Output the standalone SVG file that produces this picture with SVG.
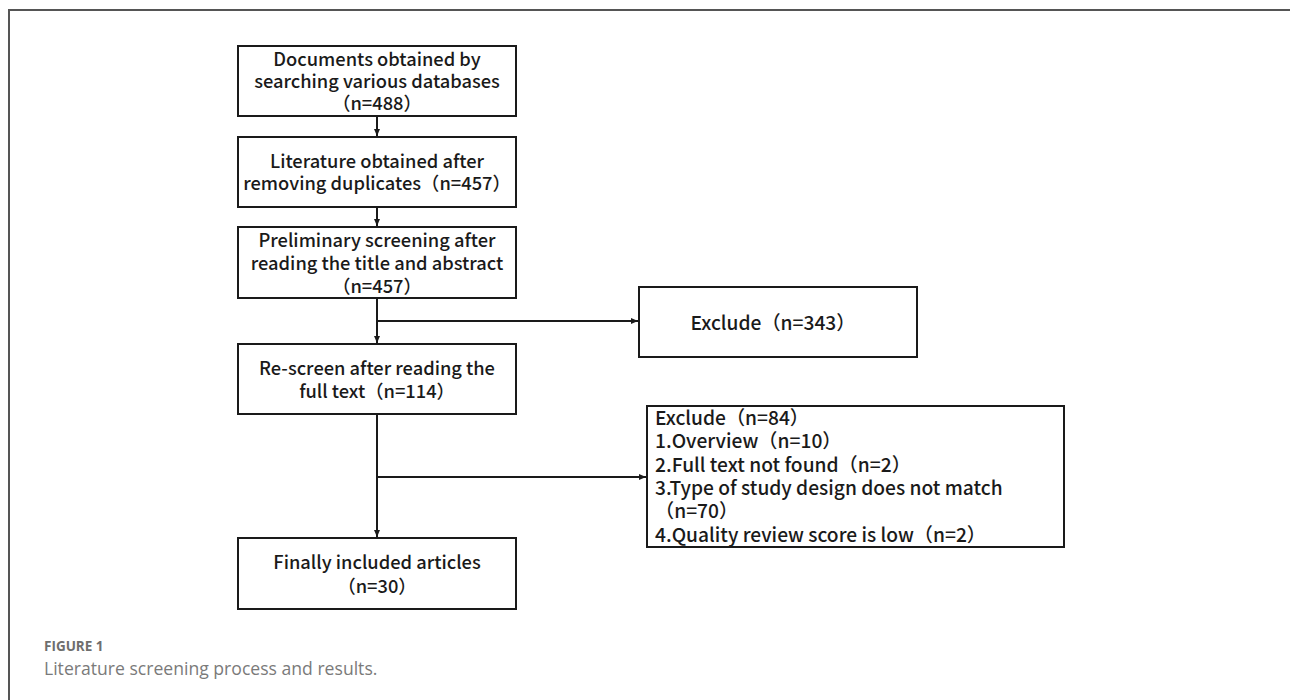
<svg xmlns="http://www.w3.org/2000/svg" width="1290" height="700" viewBox="0 0 1290 700">
<defs>
<style>
.box{fill:#fff;stroke:#1a1a1a;stroke-width:2}
.t{font-family:"Noto Sans CJK SC","Noto Sans",sans-serif;font-weight:500;font-size:18.3px;fill:#1a1a1a}
.r{font-size:19.2px}
.c{text-anchor:middle}
.ln{stroke:#1a1a1a;stroke-width:2;fill:none}
.cap1{font-family:"Open Sans",Lato,sans-serif;font-weight:bold;font-size:13.5px;fill:#6e6e6e}
.cap2{font-family:"Open Sans",Lato,sans-serif;font-size:17.6px;fill:#7a7a7a}
</style>
<marker id="ah" markerWidth="8" markerHeight="8" refX="7" refY="4" orient="auto" markerUnits="userSpaceOnUse">
<path d="M0,1 L7,4 L0,7 Z" fill="#1a1a1a"/>
</marker>
</defs>
<rect width="1290" height="700" fill="#fff"/>
<path d="M9,700 V10 H1290" fill="none" stroke="#555" stroke-width="2"/>
<g id="connectors">
<line class="ln" x1="377" y1="116" x2="377" y2="136" marker-end="url(#ah)"/>
<line class="ln" x1="377" y1="207" x2="377" y2="226" marker-end="url(#ah)"/>
<line class="ln" x1="377" y1="298" x2="377" y2="343" marker-end="url(#ah)"/>
<line class="ln" x1="377" y1="321" x2="638" y2="321" marker-end="url(#ah)"/>
<line class="ln" x1="377" y1="414" x2="377" y2="537" marker-end="url(#ah)"/>
<line class="ln" x1="377" y1="477" x2="646" y2="477" marker-end="url(#ah)"/>
</g>
<g id="n1">
<rect class="box" x="238" y="46" width="278" height="70"/>
<text class="t c" x="377" y="66">Documents obtained by</text>
<text class="t c" x="377" y="88">searching various databases</text>
<text class="t c" x="377" y="110">（n=488）</text>
</g>
<g id="n2">
<rect class="box" x="238" y="137" width="278" height="70"/>
<text class="t c" x="377" y="168">Literature obtained after</text>
<text class="t c" x="377" y="190">removing duplicates（n=457）</text>
</g>
<g id="n3">
<rect class="box" x="238" y="227" width="278" height="71"/>
<text class="t c" x="377" y="247">Preliminary screening after</text>
<text class="t c" x="377" y="270">reading the title and abstract</text>
<text class="t c" x="377" y="293">（n=457）</text>
</g>
<g id="n4">
<rect class="box" x="238" y="344" width="278" height="70"/>
<text class="t c" x="377" y="375">Re-screen after reading the</text>
<text class="t c" x="377" y="398">full text（n=114）</text>
</g>
<g id="n5">
<rect class="box" x="639" y="287" width="278" height="70"/>
<text class="t r c" x="773" y="330">Exclude（n=343）</text>
</g>
<g id="n6">
<rect class="box" x="647" y="406" width="417" height="141"/>
<text class="t r" x="655" y="425">Exclude（n=84）</text>
<text class="t r" x="655" y="448">1.Overview（n=10）</text>
<text class="t r" x="655" y="472">2.Full text not found（n=2）</text>
<text class="t r" x="655" y="495">3.Type of study design does not match</text>
<text class="t r" x="655" y="518">（n=70）</text>
<text class="t r" x="655" y="542">4.Quality review score is low（n=2）</text>
</g>
<g id="n7">
<rect class="box" x="238" y="538" width="278" height="71"/>
<text class="t c" x="377" y="569">Finally included articles</text>
<text class="t c" x="377" y="593">（n=30）</text>
</g>
<text class="cap1" x="44" y="651">FIGURE 1</text>
<text class="cap2" x="44" y="675">Literature screening process and results.</text>
</svg>
